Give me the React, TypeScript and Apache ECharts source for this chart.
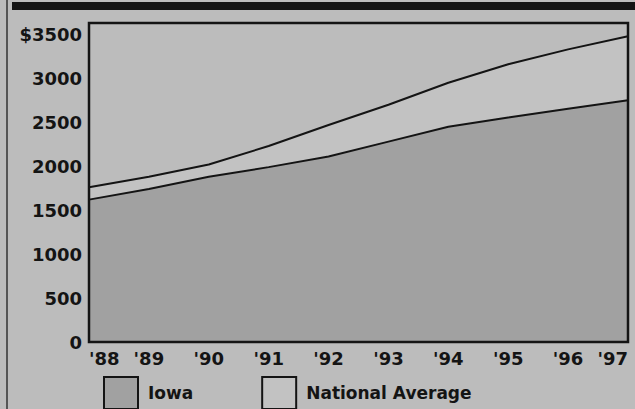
import React, { useEffect, useRef } from "react";
import * as echarts from "echarts";

const years = ["'88", "'89", "'90", "'91", "'92", "'93", "'94", "'95", "'96", "'97"];
const iowa = [1620, 1740, 1880, 1990, 2110, 2280, 2450, 2555, 2655, 2750];
const national = [1760, 1880, 2020, 2230, 2470, 2700, 2950, 3160, 3330, 3480];
const seriesNames = ["Iowa", "National Average"];

const BG = "#bcbcbc";
const IOWA_FILL = "#a1a1a1";
const NAT_FILL = "#c2c2c2";
const INK = "#141414";
const FONT = "DejaVu Sans";

const G = { left: 89, top: 23, right: 7, bottom: 67 };
const W = 635;
const H = 409;

export default function App() {
  const ref = useRef<HTMLDivElement>(null);
  useEffect(() => {
    if (!ref.current) return;
    const chart = echarts.init(ref.current, null, { renderer: "svg" });
    chart.setOption({
      animation: false,
      backgroundColor: BG,
      grid: { left: G.left, top: G.top, right: G.right, bottom: G.bottom, containLabel: false },
      xAxis: {
        type: "category",
        data: years,
        boundaryGap: false,
        axisLine: { show: false },
        axisTick: { show: false },
        splitLine: { show: false },
        axisLabel: {
          color: INK,
          fontFamily: FONT,
          fontWeight: "bold",
          fontSize: 18,
          margin: 7,
          alignMinLabel: "left",
          alignMaxLabel: "right",
          interval: 0,
        },
      },
      yAxis: {
        type: "value",
        min: 0,
        max: 3630,
        interval: 500,
        axisLine: { show: false },
        axisTick: { show: false },
        splitLine: { show: false },
        axisLabel: {
          color: INK,
          fontFamily: FONT,
          fontWeight: "bold",
          fontSize: 18,
          margin: 7,
          showMaxLabel: false,
          formatter: (v: number) => (v === 3500 ? "$3500" : String(v)),
        },
      },
      legend: {
        left: 98,
        top: 371,
        icon: "rect",
        itemWidth: 34,
        itemHeight: 32,
        itemGap: 68,
        textStyle: { color: INK, fontFamily: FONT, fontWeight: "bold", fontSize: 17, padding: [0, 0, 0, 5] },
        itemStyle: { borderColor: INK, borderWidth: 2 },
        data: [
          { name: seriesNames[0], itemStyle: { color: IOWA_FILL } },
          { name: seriesNames[1], itemStyle: { color: NAT_FILL } },
        ],
      },
      series: [
        {
          name: seriesNames[1],
          type: "line",
          data: national,
          showSymbol: false,
          itemStyle: { color: NAT_FILL },
          lineStyle: { color: INK, width: 2 },
          areaStyle: { color: NAT_FILL, opacity: 1 },
          z: 2,
        },
        {
          name: seriesNames[0],
          type: "line",
          data: iowa,
          showSymbol: false,
          itemStyle: { color: IOWA_FILL },
          lineStyle: { color: INK, width: 2 },
          areaStyle: { color: IOWA_FILL, opacity: 1 },
          z: 3,
        },
      ],
      graphic: [
        {
          type: "rect",
          z: 100,
          shape: { x: G.left, y: G.top, width: W - G.left - G.right, height: H - G.top - G.bottom },
          style: { fill: "none", stroke: INK, lineWidth: 2.5 },
        },
        {
          type: "rect",
          z: 100,
          shape: { x: 12, y: 2, width: W - 12, height: 8 },
          style: { fill: INK },
        },
        {
          type: "line",
          z: 100,
          shape: { x1: 7, y1: 0, x2: 7, y2: H },
          style: { stroke: "#333", lineWidth: 1.5 },
        },
      ],
    });
    return () => chart.dispose();
  }, []);
  return (
    <div
      ref={ref}
      style={{ position: "fixed", left: 0, top: 0, width: W, height: H }}
    />
  );
}
